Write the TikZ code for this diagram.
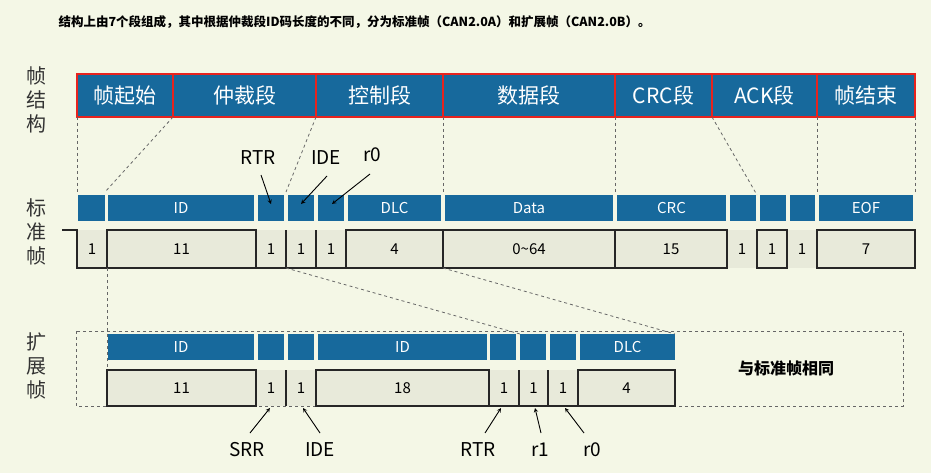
\documentclass[tikz,border=0pt]{standalone}
\usepackage{fontspec}
\setmainfont{Noto Sans CJK SC}
\definecolor{bg}{HTML}{F4F7E6}
\definecolor{cb}{HTML}{17699C}
\definecolor{cg}{HTML}{E8EADA}
\definecolor{cr}{HTML}{E8231E}
\tikzset{
 base/.style={anchor=north west,inner sep=0,outer sep=0},
 topcell/.style={base,fill=cb,draw=cr,line width=1.6pt,text=white,font=\fontsize{21}{21}\selectfont},
 bluecell/.style={base,fill=cb,text=white,font=\fontsize{15}{15}\selectfont},
 bitcell/.style={base,fill=cg,font=\fontsize{15}{15}\selectfont},
 wave/.style={line width=1.1pt,black!85},
 guide/.style={dashed,line width=0.8pt,black!60},
 lab/.style={font=\fontsize{19}{19}\selectfont},
 side/.style={font=\fontsize{20}{24}\selectfont,align=center,text=black!80},
 ptr/.style={->,>=stealth,line width=0.9pt}
}
\newcommand{\cell}[7]{\node[#6,minimum width={(#3-#2)*1pt},minimum height={(#5-#4)*1pt}] (#1) at (#2,#4) {#7};}
\begin{document}
\begin{tikzpicture}[x=1pt,y=-1pt]
\fill[bg] (0,0) rectangle (931,473);
\useasboundingbox (0,0) rectangle (931,473);
\node[anchor=west,font=\bfseries\fontsize{12.5}{12.5}\selectfont] (title) at (55,22) {结构上由7个段组成，其中根据仲裁段ID码长度的不同，分为标准帧（CAN2.0A）和扩展帧（CAN2.0B）。};
\node[side] (L1) at (37,100) {帧\\结\\构};
\node[side] (L2) at (37,232) {标\\准\\帧};
\node[side] (L3) at (37,366) {扩\\展\\帧};
% top row
\cell{t1}{77}{173}{74}{117}{topcell}{帧起始}
\cell{t2}{173}{316}{74}{117}{topcell}{仲裁段}
\cell{t3}{316}{443}{74}{117}{topcell}{控制段}
\cell{t4}{443}{615}{74}{117}{topcell}{数据段}
\cell{t5}{615}{712}{74}{117}{topcell}{CRC段}
\cell{t6}{712}{817}{74}{117}{topcell}{ACK段}
\cell{t7}{817}{915}{74}{117}{topcell}{帧结束}
% standard blue row
\cell{s1}{78}{105}{195}{221}{bluecell}{}
\cell{s2}{108}{254}{195}{221}{bluecell}{ID}
\cell{s3}{258}{284}{195}{221}{bluecell}{}
\cell{s4}{288}{314}{195}{221}{bluecell}{}
\cell{s5}{318}{344}{195}{221}{bluecell}{}
\cell{s6}{348}{441}{195}{221}{bluecell}{DLC}
\cell{s7}{445}{613}{195}{221}{bluecell}{Data}
\cell{s8}{617}{726}{195}{221}{bluecell}{CRC}
\cell{s9}{730}{756}{195}{221}{bluecell}{}
\cell{s10}{760}{786}{195}{221}{bluecell}{}
\cell{s11}{790}{815}{195}{221}{bluecell}{}
\cell{s12}{819}{913}{195}{221}{bluecell}{EOF}
% standard bits
\cell{b1}{77}{107}{230}{268}{bitcell}{1}
\cell{b2}{107}{256}{230}{268}{bitcell}{11}
\cell{b3}{256}{286}{230}{268}{bitcell}{1}
\cell{b4}{286}{316}{230}{268}{bitcell}{1}
\cell{b5}{316}{346}{230}{268}{bitcell}{1}
\cell{b6}{346}{443}{230}{268}{bitcell}{4}
\cell{b7}{443}{615}{230}{268}{bitcell}{0\textasciitilde64}
\cell{b8}{615}{727}{230}{268}{bitcell}{15}
\cell{b9}{727}{757}{230}{268}{bitcell}{1}
\cell{b10}{757}{787}{230}{268}{bitcell}{1}
\cell{b11}{787}{817}{230}{268}{bitcell}{1}
\cell{b12}{817}{915}{230}{268}{bitcell}{7}
\coordinate (w0) at (62,230);
\draw[wave] (w0) -- (b1.north west) -- (b1.south west) -- (b8.south east) -- (b8.north east) -- (b6.north west) -- (b6.south west);
\draw[wave] (b2.south west) -- (b2.north west) -- (b2.north east) -- (b2.south east);
\draw[wave] (b4.north west) -- (b4.south west) (b5.north west) -- (b5.south west) (b7.north west) -- (b7.south west) (b8.north west) -- (b8.south west);
\draw[wave] (b10.south west) rectangle (b10.north east);
\draw[wave] (b12.south west) rectangle (b12.north east);
% guides top->standard
\coordinate (g1) at (77,192); \coordinate (g2) at (105,192); \coordinate (g3) at (286,192);
\coordinate (g4) at (443,192); \coordinate (g5) at (615,192); \coordinate (g6) at (757,195);
\coordinate (g7) at (817,192); \coordinate (g8) at (915,192);
\draw[guide] (t1.south west) -- (g1);
\draw[guide] (t1.south east) -- (g2);
\draw[guide] (t2.south east) -- (g3);
\draw[guide] (t3.south east) -- (g4);
\draw[guide] (t4.south east) -- (g5);
\draw[guide] (t5.south east) -- (g6);
\draw[guide] (t6.south east) -- (g7);
\draw[guide] (t7.south east) -- (g8);
% pointers standard
\node[lab] (rtr) at (258,158) {RTR};
\node[lab] (ide) at (326,158) {IDE};
\node[lab] (r0) at (372,155) {r0};
\draw[ptr] (261,175) -- (271,204);
\draw[ptr] (327,176) -- (301,204);
\draw[ptr] (370,174) -- (332,204);
% extended frame
\draw[guide] (76,331) rectangle (903,406);
\cell{e1}{108}{254}{334}{360}{bluecell}{ID}
\cell{e2}{258}{284}{334}{360}{bluecell}{}
\cell{e3}{288}{314}{334}{360}{bluecell}{}
\cell{e4}{318}{487}{334}{360}{bluecell}{ID}
\cell{e5}{490}{516}{334}{360}{bluecell}{}
\cell{e6}{520}{546}{334}{360}{bluecell}{}
\cell{e7}{550}{576}{334}{360}{bluecell}{}
\cell{e8}{580}{675}{334}{360}{bluecell}{DLC}
\cell{f1}{107}{256}{370}{406}{bitcell}{11}
\cell{f2}{256}{286}{370}{406}{bitcell}{1}
\cell{f3}{286}{316}{370}{406}{bitcell}{1}
\cell{f4}{316}{489}{370}{406}{bitcell}{18}
\cell{f5}{489}{519}{370}{406}{bitcell}{1}
\cell{f6}{519}{548}{370}{406}{bitcell}{1}
\cell{f7}{548}{578}{370}{406}{bitcell}{1}
\cell{f8}{578}{675}{370}{406}{bitcell}{4}
\draw[wave] (f1.south west) rectangle (f1.north east);
\draw[wave] (f3.north west) -- (f3.south west);
\draw[wave] (f4.south west) rectangle (f4.north east);
\draw[wave] (f5.south west) -- (f8.south east) -- (f8.north east) -- (f8.north west) -- (f8.south west);
\draw[wave] (f6.north west) -- (f6.south west) (f7.north west) -- (f7.south west);
\node[font=\bfseries\fontsize{16}{16}\selectfont] (same) at (786,368) {与标准帧相同};
\draw[guide] (b2.south west) -- (f1.north west);
\draw[guide] (b4.south west) -- (e6.north west);
\draw[guide] (b7.south west) -- (e8.north east);
% pointers extended
\node[lab] (srr) at (247,450) {SRR};
\node[lab] (ide2) at (320,450) {IDE};
\node[lab] (rtr2) at (478,450) {RTR};
\node[lab] (r1) at (540,450) {r1};
\node[lab] (r02) at (592,450) {r0};
\draw[ptr] (250,433) -- (270,408);
\draw[ptr] (320,433) -- (303,408);
\draw[ptr] (485,433) -- (501,408);
\draw[ptr] (541,433) -- (535,408);
\draw[ptr] (584,433) -- (565,408);
\end{tikzpicture}
\end{document}
